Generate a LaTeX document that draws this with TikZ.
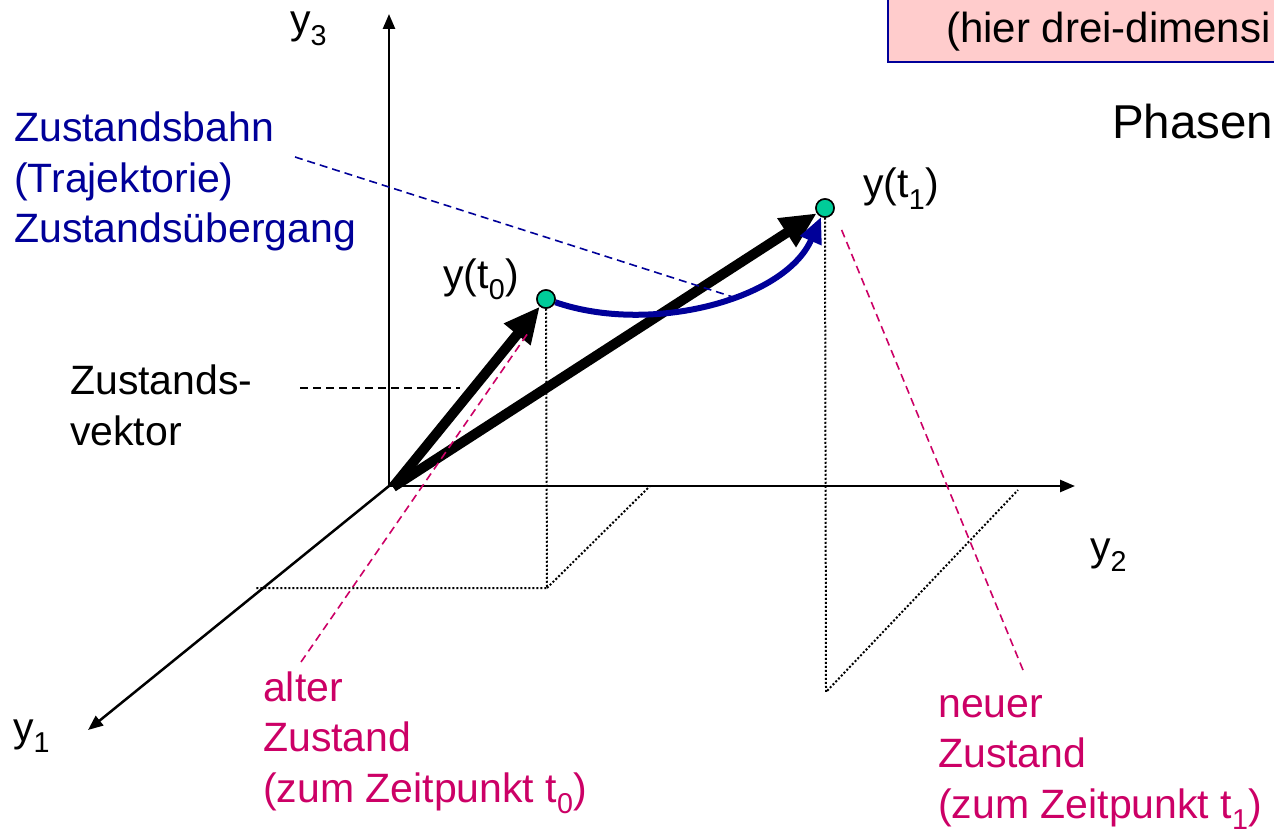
\documentclass[tikz,border=0pt]{standalone}
\usepackage{fontspec}
\setmainfont{Liberation Sans}
\usetikzlibrary{arrows.meta}
\definecolor{dblue}{RGB}{0,0,153}
\definecolor{mag}{RGB}{204,0,102}
\definecolor{dotgreen}{RGB}{0,204,153}
\definecolor{pinkbox}{RGB}{255,204,204}
\begin{document}
\begin{tikzpicture}[x=1pt,y=-1pt,
  lbl/.style={anchor=base west, inner sep=0pt, font=\fontsize{41}{50.5}\selectfont, align=left},
  axis/.style={line width=2.5pt, -{Triangle[length=15pt,width=12pt]}},
  vec/.style={line width=10pt, -{Triangle[length=36pt,width=32pt]}},
  traj/.style={dblue, line width=6pt, -{Triangle[length=26pt,width=22pt]}},
  guide/.style={line width=1.6pt, dash pattern=on 8pt off 5pt},
  proj/.style={line width=2pt, dash pattern=on 2pt off 2pt},
  state/.style={circle, draw=black, line width=1.5pt, fill=dotgreen, minimum size=18pt, inner sep=0pt}
]
\clip (0,0) rectangle (1274,834);
\fill[white] (0,0) rectangle (1274,834);

% hint box (clipped at top and right)
\path[fill=pinkbox, draw=dblue, line width=2pt] (888,62) rectangle (1320,-20);
\node[lbl, font=\fontsize{42}{50}\selectfont] (hier) at (946,43) {(hier drei-dimensi};
\node[lbl, font=\fontsize{47.5}{58}\selectfont] (phasen) at (1112,139) {Phasen};

% coordinates
\coordinate (O) at (389,486);
\coordinate (y3tip) at (389,14);
\coordinate (y2tip) at (1075,486);
\coordinate (y1tip) at (88,730);
\coordinate (p0) at (547,588);
\coordinate (p0l) at (255,588);
\coordinate (p0r) at (650,486);
\coordinate (p1) at (826,692);
\coordinate (p1r) at (1018,490);
\coordinate (vs) at (393,487);

% state points
\node[state] (s0) at (546,299) {};
\node[state] (s1) at (825,208) {};

% projection lines
\draw[proj] (s0) -- (p0) -- (p0l);
\draw[proj] (p0) -- (p0r);
\draw[proj] (s1) -- (p1) -- (p1r);

% axes
\draw[axis] (O) -- (y3tip);
\draw[axis] (O) -- (y2tip);
\draw[axis] (O) -- (y1tip);

% state vectors
\draw[vec] (vs) -- (s0);
\draw[vec] (vs) -- (s1);

% trajectory
\draw[traj] (s0) .. controls (650,335) and (785,300) .. (s1);

% redraw points on top
\node[state] at (s0) {};
\node[state] at (s1) {};

% labels
\node[lbl] (ly3) at (290,34) {y\textsubscript{3}};
\node[lbl] (ly2) at (1090,560) {y\textsubscript{2}};
\node[lbl] (ly1) at (13,741) {y\textsubscript{1}};
\node[lbl] (lt0) at (443,288) {y(t\textsubscript{0})};
\node[lbl] (lt1) at (863,198) {y(t\textsubscript{1})};
\node[lbl, text=dblue] (bahn) at (14,243) {Zustandsbahn\\(Trajektorie)\\Zustandsübergang};
\node[lbl] (zv) at (70,445) {Zustands-\\vektor};
\node[lbl, text=mag] (alt) at (263,802) {alter\\Zustand\\(zum Zeitpunkt t\textsubscript{0})};
\node[lbl, text=mag] (neu) at (938,818) {neuer\\Zustand\\(zum Zeitpunkt t\textsubscript{1})};

% guide lines
\coordinate (bahnend) at (295,157);
\coordinate (bahntgt) at (733,297);
\coordinate (zvend) at (300,388);
\coordinate (zvtgt) at (460,388);
\coordinate (altend) at (301,662);
\coordinate (alttgt) at (528,333);
\coordinate (neuend) at (1023,670);
\coordinate (neutgt) at (840,226);
\draw[guide, dblue] (bahnend) -- (bahntgt);
\draw[guide, black] (zvend) -- (zvtgt);
\draw[guide, mag] (altend) -- (alttgt);
\draw[guide, mag] (neuend) -- (neutgt);
\end{tikzpicture}
\end{document}
